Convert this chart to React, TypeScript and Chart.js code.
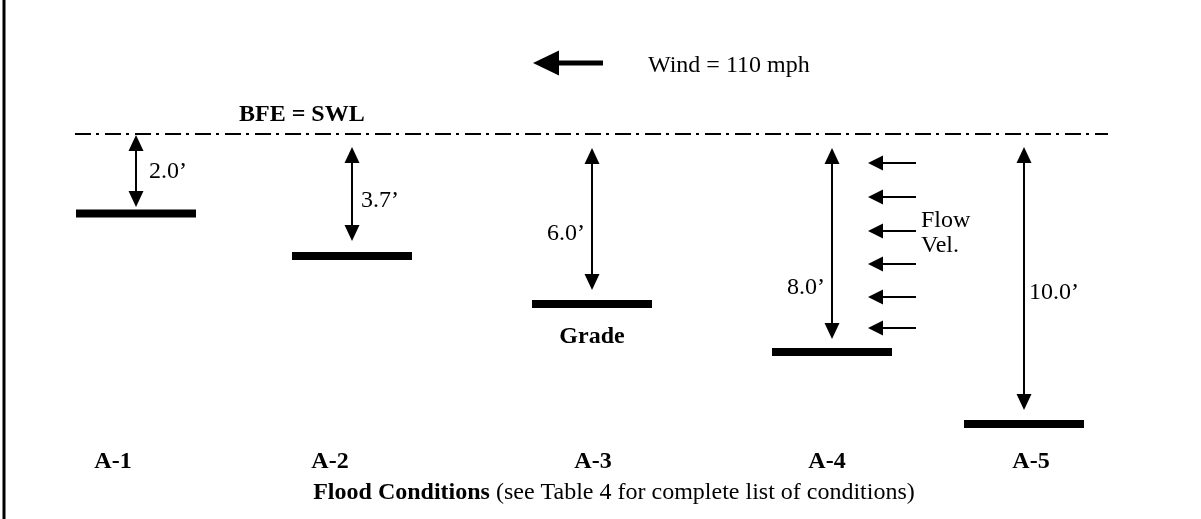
import React, { useEffect, useRef } from 'react';
import { Chart, registerables } from 'chart.js';

Chart.register(...registerables);

// ---------------- data ----------------
const conditions = ['A-1', 'A-2', 'A-3', 'A-4', 'A-5'];
const depthFt = [2.0, 3.7, 6.0, 8.0, 10.0]; // stillwater depth above grade
const stations = [136, 352, 592, 832, 1024]; // horizontal station of each condition
const gradeDrawn = [7.95, 12.2, 17.0, 21.8, 29.0]; // drawn grade level below BFE (schematic, not to scale)
const flowLevels = [2.9, 6.3, 9.7, 13.0, 16.3, 19.4]; // flow velocity arrows (A-4)
const windSpeedMph = 110;
const bfeLabel = 'BFE = SWL';
const gradeLabel = 'Grade';
const captionBold = 'Flood Conditions';
const captionRest = ' (see Table 4 for complete list of conditions)';

// ---------------- layout (drawing units: x = px, y = 10px per unit below BFE) ----------------
const Y_TOP = -13.4;
const Y_BOTTOM = 38.5;
const BAR_HALF = 60;
const arrowTopGap = [0.1, 1.3, 1.4, 1.4, 1.3];
const arrowBottomGap = [0.65, 1.5, 1.4, 1.3, 1.4];
const depthLabelSide = ['right', 'right', 'left', 'left', 'right'];
const depthLabelGap = [13, 9, 7, 7, 5];
const depthLabelY = [4.4, 7.3, 10.6, 16.0, 16.5];
const condLabelDx = [-23, -22, 1, -5, 7];
const FONT = '"Liberation Serif", "Times New Roman", serif';

function drawArrowHead(ctx: CanvasRenderingContext2D, tipX: number, tipY: number, dirX: number, dirY: number, len: number, half: number) {
  const bx = tipX - dirX * len;
  const by = tipY - dirY * len;
  const nx = -dirY;
  const ny = dirX;
  ctx.beginPath();
  ctx.moveTo(tipX, tipY);
  ctx.lineTo(bx + nx * half, by + ny * half);
  ctx.lineTo(bx - nx * half, by - ny * half);
  ctx.closePath();
  ctx.fill();
}

function drawArrow(ctx: CanvasRenderingContext2D, x1: number, y1: number, x2: number, y2: number, len: number, half: number, lw: number, both: boolean) {
  const d = Math.hypot(x2 - x1, y2 - y1);
  const dx = (x2 - x1) / d;
  const dy = (y2 - y1) / d;
  const sx = both ? x1 + dx * (len - 1) : x1;
  const sy = both ? y1 + dy * (len - 1) : y1;
  ctx.lineWidth = lw;
  ctx.beginPath();
  ctx.moveTo(sx, sy);
  ctx.lineTo(x2 - dx * (len - 1), y2 - dy * (len - 1));
  ctx.stroke();
  drawArrowHead(ctx, x2, y2, dx, dy, len, half);
  if (both) drawArrowHead(ctx, x1, y1, -dx, -dy, len, half);
}

const diagramPlugin = {
  id: 'diagram',
  afterDatasetsDraw(chart: any) {
    const ctx: CanvasRenderingContext2D = chart.ctx;
    const xs = chart.scales.x;
    const ys = chart.scales.y;
    const X = (v: number) => xs.getPixelForValue(v);
    const Y = (v: number) => ys.getPixelForValue(v);
    ctx.save();
    ctx.fillStyle = '#000';
    ctx.strokeStyle = '#000';
    ctx.lineCap = 'butt';

    // left frame line
    ctx.lineWidth = 3;
    ctx.beginPath();
    ctx.moveTo(4, 0);
    ctx.lineTo(4, chart.height);
    ctx.stroke();

    // depth arrows and labels
    ctx.font = `24px ${FONT}`;
    ctx.textBaseline = 'alphabetic';
    conditions.forEach((_, i) => {
      const x = X(stations[i]);
      const top = Y(arrowTopGap[i]);
      const bot = Y(gradeDrawn[i] - arrowBottomGap[i]);
      drawArrow(ctx, x, top, x, bot, 16, 7.5, 2, true);
      const txt = `${depthFt[i].toFixed(1)}\u2019`;
      if (depthLabelSide[i] === 'right') {
        ctx.textAlign = 'left';
        ctx.fillText(txt, x + depthLabelGap[i], Y(depthLabelY[i]));
      } else {
        ctx.textAlign = 'right';
        ctx.fillText(txt, x - depthLabelGap[i], Y(depthLabelY[i]));
      }
    });

    // flow velocity arrows (condition A-4)
    const s4 = stations[3];
    flowLevels.forEach((lv) => {
      drawArrow(ctx, X(s4 + 84), Y(lv), X(s4 + 36), Y(lv), 15, 7.5, 2, false);
    });
    ctx.textAlign = 'left';
    ctx.fillText('Flow', X(s4 + 89), Y(9.3));
    ctx.fillText('Vel.', X(s4 + 89), Y(11.8));

    // wind arrow and label
    const windY = Y(-7.1);
    drawArrow(ctx, X(603), windY, X(533), windY, 26, 12.5, 5, false);
    ctx.fillText(`Wind = ${windSpeedMph} mph`, X(648), Y(-6.2));

    // BFE label
    ctx.font = `bold 24px ${FONT}`;
    ctx.fillText(bfeLabel, X(239), Y(-1.3));

    // Grade label under A-3
    ctx.textAlign = 'center';
    ctx.fillText(gradeLabel, X(stations[2]), Y(gradeDrawn[2] + 3.9));

    // condition labels
    conditions.forEach((c, i) => {
      ctx.fillText(c, X(stations[i] + condLabelDx[i]), Y(33.4));
    });

    // caption
    ctx.textAlign = 'left';
    ctx.font = `bold 24px ${FONT}`;
    const wb = ctx.measureText(captionBold).width;
    ctx.font = `24px ${FONT}`;
    const wr = ctx.measureText(captionRest).width;
    const cx0 = X(614) - (wb + wr) / 2;
    const cy = Y(36.5);
    ctx.font = `bold 24px ${FONT}`;
    ctx.fillText(captionBold, cx0, cy);
    ctx.font = `24px ${FONT}`;
    ctx.fillText(captionRest, cx0 + wb, cy);

    ctx.restore();
  },
};

export default function App() {
  const ref = useRef<HTMLCanvasElement | null>(null);
  useEffect(() => {
    if (!ref.current) return;
    const barSets = conditions.map((c, i) => ({
      label: `Grade ${c}`,
      data: [
        { x: stations[i] - BAR_HALF, y: gradeDrawn[i] },
        { x: stations[i] + BAR_HALF, y: gradeDrawn[i] },
      ],
      showLine: true,
      borderColor: '#000',
      borderWidth: 8,
      borderCapStyle: 'butt' as const,
      pointRadius: 0,
    }));
    const bfeSet = {
      label: 'BFE = SWL',
      data: [
        { x: 75, y: 0 },
        { x: 1108, y: 0 },
      ],
      showLine: true,
      borderColor: '#000',
      borderWidth: 2,
      borderDash: [16, 5, 3, 6],
      borderCapStyle: 'butt' as const,
      pointRadius: 0,
    };
    const chart = new Chart(ref.current, {
      type: 'scatter',
      data: { datasets: [bfeSet, ...barSets] as any },
      options: {
        animation: false,
        responsive: false,
        devicePixelRatio: 1,
        layout: { padding: 0 },
        events: [],
        plugins: { legend: { display: false }, tooltip: { enabled: false } },
        scales: {
          x: { type: 'linear', display: false, min: 0, max: 1201 },
          y: { type: 'linear', display: false, min: Y_TOP, max: Y_BOTTOM, reverse: true },
        },
      },
      plugins: [diagramPlugin],
    });
    return () => chart.destroy();
  }, []);
  return (
    <div style={{ position: 'fixed', left: 0, top: 0, width: 1201, height: 519, background: '#fff' }}>
      <canvas ref={ref} width={1201} height={519} style={{ display: 'block', width: 1201, height: 519 }} />
    </div>
  );
}
